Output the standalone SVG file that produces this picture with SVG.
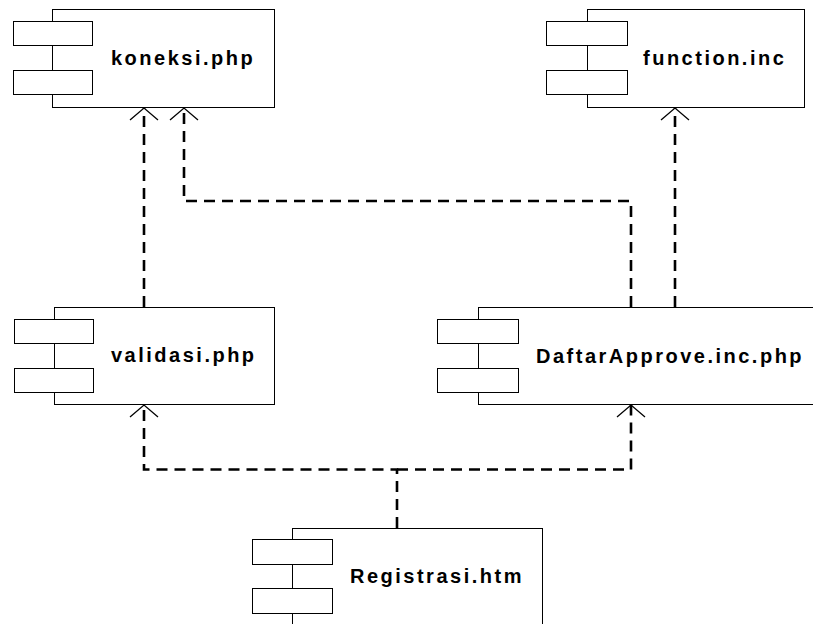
<svg xmlns="http://www.w3.org/2000/svg" width="813" height="624" viewBox="0 0 813 624">
  <style>
    .box { fill: #ffffff; stroke: #000000; stroke-width: 1; }
    .port { fill: #ffffff; stroke: #000000; stroke-width: 1; }
    .label { font-family: "Liberation Sans", Arial, sans-serif; font-size: 20px; font-weight: bold; letter-spacing: 2.5px; fill: #000000; }
    .dep { fill: none; stroke: #000000; stroke-width: 2.6; stroke-dasharray: 11 7; }
  </style>
  <defs>
    <marker id="open-arrow" markerUnits="userSpaceOnUse" viewBox="-15 -15 30 30" markerWidth="30" markerHeight="30" refX="0" refY="0" orient="auto" overflow="visible">
      <path d="M -12 -14 L 0 0 L -12 14" fill="none" stroke="#000000" stroke-width="1.3"/>
    </marker>
  </defs>
  <rect width="813" height="624" fill="#ffffff"/>

  <!-- dependency connectors -->
  <g id="connectors">
    <path class="dep" d="M 144 307 V 108" marker-end="url(#open-arrow)"/>
    <path class="dep" d="M 631 307 V 201 H 184 V 108" marker-end="url(#open-arrow)"/>
    <path class="dep" d="M 675 307 V 108" marker-end="url(#open-arrow)"/>
    <path class="dep" d="M 397 528 V 469.5 H 144 V 405" marker-end="url(#open-arrow)"/>
    <path class="dep" d="M 397 469.5 H 631 V 405" marker-end="url(#open-arrow)"/>
  </g>

  <g id="koneksi">
    <rect class="box" x="52.5" y="9.5" width="222" height="98"/>
    <rect class="port" x="13.5" y="21.5" width="79" height="24"/>
    <rect class="port" x="13.5" y="70.5" width="79" height="24"/>
    <text class="label" x="111" y="65">koneksi.php</text>
  </g>

  <g id="function">
    <rect class="box" x="587.5" y="9.5" width="217" height="98"/>
    <rect class="port" x="546.5" y="21.5" width="81" height="24"/>
    <rect class="port" x="546.5" y="70.5" width="81" height="24"/>
    <text class="label" x="643" y="65">function.inc</text>
  </g>

  <g id="validasi">
    <rect class="box" x="54.5" y="307.5" width="220" height="97"/>
    <rect class="port" x="14.5" y="319.5" width="79" height="24"/>
    <rect class="port" x="14.5" y="368.5" width="79" height="24"/>
    <text class="label" x="111" y="362">validasi.php</text>
  </g>

  <g id="daftarapprove">
    <rect class="box" x="478.5" y="307.5" width="340" height="97"/>
    <rect class="port" x="437.5" y="319.5" width="81" height="24"/>
    <rect class="port" x="437.5" y="368.5" width="81" height="24"/>
    <text class="label" x="536" y="363">DaftarApprove.inc.php</text>
  </g>

  <g id="registrasi">
    <rect class="box" x="292.5" y="528.5" width="250" height="120"/>
    <rect class="port" x="252.5" y="539.5" width="80" height="25"/>
    <rect class="port" x="252.5" y="588.5" width="80" height="25"/>
    <text class="label" x="350" y="583">Registrasi.htm</text>
  </g>
</svg>
